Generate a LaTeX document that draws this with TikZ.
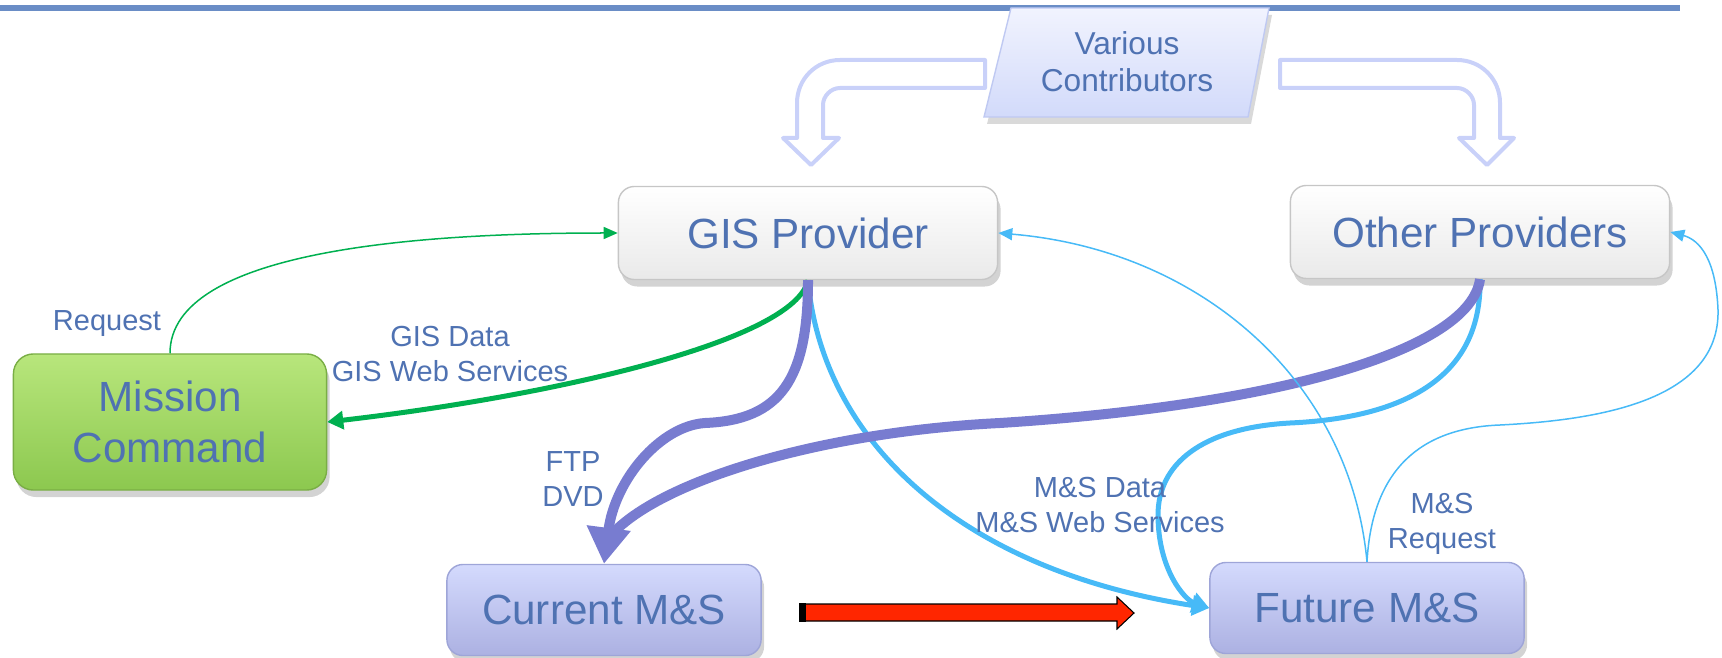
\documentclass[tikz,border=0pt]{standalone}
\usepackage{fontspec}
\setmainfont{Liberation Sans}
\usetikzlibrary{arrows.meta,shadows}
\definecolor{txtblue}{HTML}{4F72B2}
\definecolor{rulecol}{HTML}{6A8DC6}
\definecolor{hollowcol}{HTML}{C9D1F9}
\definecolor{paratop}{HTML}{F1F3FE}
\definecolor{parabot}{HTML}{D2DAFA}
\definecolor{paraedge}{HTML}{BFC9F2}
\definecolor{gisgreen}{HTML}{00B050}
\definecolor{ftpviolet}{HTML}{787CD0}
\definecolor{msblue}{HTML}{47BAF7}
\definecolor{redarrow}{HTML}{FF2600}
\definecolor{mstop}{HTML}{D4DAFD}
\definecolor{msbot}{HTML}{ACB1E2}
\definecolor{msedge}{HTML}{9EA5D8}
\definecolor{mctop}{HTML}{B8E67C}
\definecolor{mcbot}{HTML}{8CC84F}
\definecolor{mcedge}{HTML}{7AAE45}
\begin{document}
\begin{tikzpicture}[x=0.01cm,y=-0.01cm,
 box/.style={rounded corners=1.6mm,inner sep=0pt,text=txtblue,align=center,
  font=\fontsize{12}{14.5}\selectfont,
  drop shadow={shadow xshift=0.3mm,shadow yshift=-0.7mm,opacity=0.35}},
 provider/.style={box,draw=gray!45,top color=white,bottom color=gray!17,
  minimum width=3.79cm,minimum height=0.93cm},
 msbox/.style={box,draw=msedge,top color=mstop,bottom color=msbot,
  minimum width=3.14cm,minimum height=0.91cm},
 lbl/.style={text=txtblue,align=center,font=\fontsize{8.25}{10}\selectfont},
 hollow/.style={draw=hollowcol,fill=white,line width=0.4mm,line join=round},
 reqline/.style={gisgreen,line width=0.15mm,-{Triangle[length=1.4mm,width=1.2mm]}},
 gisline/.style={gisgreen,line width=0.5mm,-{Triangle[length=1.6mm,width=1.8mm]}},
 ftpline/.style={ftpviolet,line width=1mm},
 msline/.style={msblue,line width=0.5mm,-{Triangle[length=1.7mm,width=2mm]}},
 msthin/.style={msblue,line width=0.15mm,-{Triangle[length=1.4mm,width=1.2mm]}}]
\useasboundingbox (0,0) rectangle (1722,658);
\fill[rulecol] (0,5) rectangle (1680,11);
\draw[hollow] (985,60)--(840,60)..controls(816,60)and(797,79)..(797,103)--(797,138)--(783,138)--(811,165)--(839,138)--(823,138)--(823,105)..controls(823,96)and(831,88)..(840,88)--(985,88)--cycle;
\draw[hollow] (1280,60)--(1457,60)..controls(1481,60)and(1500,79)..(1500,103)--(1500,138)--(1514,138)--(1487,165)--(1459,138)--(1474,138)--(1474,105)..controls(1474,96)and(1466,88)..(1457,88)--(1280,88)--cycle;
\draw[draw=paraedge,top color=paratop,bottom color=parabot,drop shadow={shadow xshift=0.3mm,shadow yshift=-0.7mm,opacity=0.3}]
(1011,8)--(1269,8)--(1248,117)--(984,117)--cycle;
\node[lbl,font=\fontsize{9}{10.5}\selectfont] (contrib) at (1127,62) {Various\\Contributors};

\node[provider] (gis) at (808,233) {GIS Provider};
\node[provider] (other) at (1480,232) {Other Providers};
\node[box,draw=mcedge,top color=mctop,bottom color=mcbot,rounded corners=2mm,
 minimum width=3.13cm,minimum height=1.36cm] (mission) at (170,422) {Mission\\Command};
\node[msbox] (current) at (604,610) {Current M\&S};
\node[msbox] (future) at (1367,608) {Future M\&S};
\coordinate (ftpjoin) at (614,532);

\draw[reqline] (mission.north)..controls(170,250)and(420,233)..(gis.west);
\draw[gisline] (gis.south)..controls(795,340)and(560,395)..(mission.east);
\draw[msline] (gis.south)..controls(822,440)and(960,570)..(future.west);
\draw[msline] (other.south)..controls(1482,380)and(1400,418)..(1290,423)..controls(1200,428)and(1158,465)..(1158,515)..controls(1158,570)and(1185,600)..(future.west);
\draw[ftpline] (other.south)..controls(1470,350)and(1280,405)..(1000,423)..controls(820,432)and(665,480)..(ftpjoin);
\draw[ftpline,-{Triangle[length=3.6mm,width=4.2mm]}] (gis.south)..controls(808,380)and(780,420)..(705,423)..controls(660,426)and(615,480)..(current.north);
\draw[msthin] (future.north)..controls(1350,380)and(1200,250)..(gis.east);
\draw[msthin] (future.north)..controls(1372,470)and(1420,428)..(1500,425)..controls(1600,420)and(1720,400)..(1718,310)..controls(1716,260)and(1700,240)..(other.east);

\draw[fill=redarrow,line width=0.3pt] (800,604)--(1117,604)--(1117,597)--(1134,613)--(1117,629)--(1117,621)--(800,621)--cycle;
\fill (799,603) rectangle (806,622);

\node[lbl] (req) at (107,324) {Request};
\node[lbl] (gisdata) at (450,354) {GIS Data\\GIS Web Services};
\node[lbl] (ftp) at (573,479) {FTP\\DVD};
\node[lbl] (msdata) at (1100,505) {M\&S Data\\M\&S Web Services};
\node[lbl] (msreq) at (1442,524) {M\&S\\Request};
\end{tikzpicture}
\end{document}
